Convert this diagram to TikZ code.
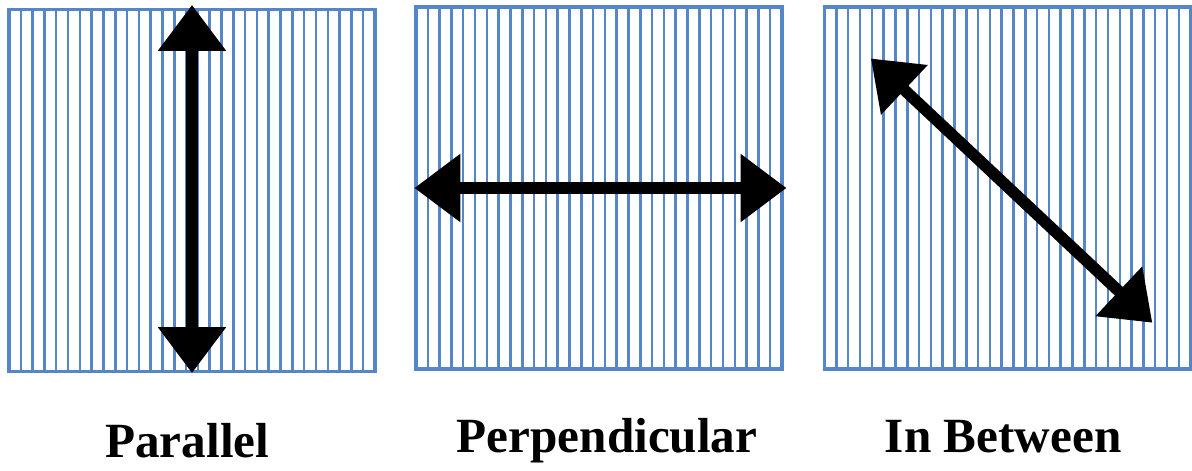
\documentclass[tikz,border=0pt]{standalone}
\usepackage{fontspec}
\setmainfont{Liberation Serif}
\usepackage{tikz}
\usetikzlibrary{positioning,arrows.meta,calc}
\definecolor{gridblue}{RGB}{84,134,200}

\begin{document}
\begin{tikzpicture}[
  panel/.style={rectangle, draw=gridblue, line width=2.5pt, minimum width=9.15cm, minimum height=9.05cm,
    path picture={
      \foreach \i in {1,...,30}
        \draw[gridblue, line width=1.8pt]
          ($(path picture bounding box.south west)!\i/31!(path picture bounding box.south east)$) --
          ($(path picture bounding box.north west)!\i/31!(path picture bounding box.north east)$);
    }},
  bigarrow/.style={line width=0.29cm, {Triangle[length=1.15cm, width=1.63cm]}-{Triangle[length=1.15cm, width=1.63cm]}},
  label/.style={font=\fontsize{35}{40}\selectfont\bfseries, anchor=base}
]
\useasboundingbox (0,0) rectangle (29.8,11.75);

\node[panel] (par) at (4.8,6.99) {};
\node[panel] (perp) at (14.975,7.05) {};
\node[panel] (betw) at (25.19,7.05) {};

\draw[bigarrow] ([yshift=0.07cm]par.north) -- (par.south);
\draw[bigarrow] (perp.west) -- ([xshift=0.07cm]perp.east);

\coordinate (betw-a) at ([shift={(1.2,-1.33)}]betw.north west);
\coordinate (betw-b) at ([shift={(-1.0,1.2)}]betw.south east);
\draw[bigarrow] (betw-a) -- (betw-b);

\node[label] (parlbl) at ([xshift=-0.12cm, yshift=-2.1cm]par.south) {Parallel};
\node[label] (perplbl) at ([xshift=0.2cm, yshift=-2.05cm]perp.south) {Perpendicular};
\node[label] (betwlbl) at ([xshift=-0.11cm, yshift=-2.05cm]betw.south) {In Between};
\end{tikzpicture}
\end{document}
